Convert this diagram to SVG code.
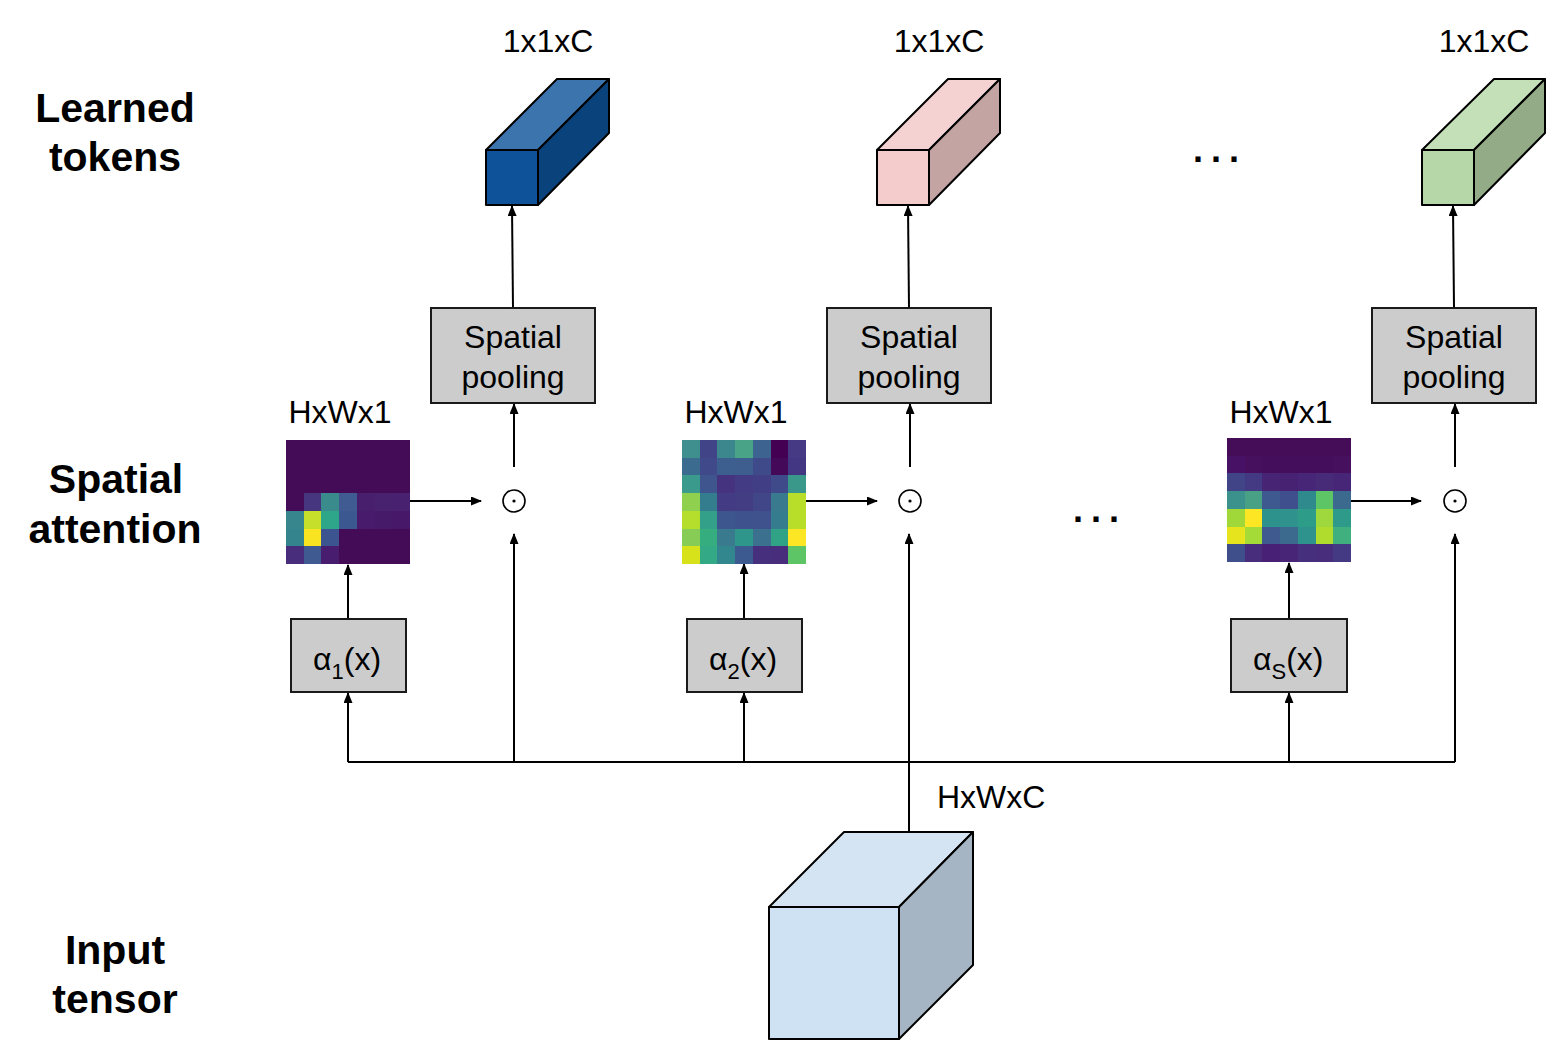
<svg xmlns="http://www.w3.org/2000/svg" width="1562" height="1062" viewBox="0 0 1562 1062">
<defs>
<marker id="arr" markerUnits="userSpaceOnUse" markerWidth="11" markerHeight="9" refX="10" refY="4.5" orient="auto">
<path d="M0,0 L11,4.5 L0,9 z" fill="#000"/>
</marker>
</defs>
<style>
.lbl{font-family:"Liberation Sans",Arial,sans-serif;font-weight:bold;font-size:41px;fill:#000;text-anchor:middle}
.t{font-family:"Liberation Sans",Arial,sans-serif;font-size:32px;fill:#000}
.c{text-anchor:middle}
.box{fill:#cccccc;stroke:#1a1a1a;stroke-width:2}
.cube{stroke:#000;stroke-width:2;stroke-linejoin:round}
.ln{fill:none;stroke:#000;stroke-width:2}
.ar{fill:none;stroke:#000;stroke-width:2;marker-end:url(#arr)}
.od{fill:none;stroke:#000;stroke-width:1.6}
.hm rect{width:17.9px;height:17.9px;shape-rendering:crispEdges}
.dots{font-family:"Liberation Sans",Arial,sans-serif;font-weight:bold;font-size:36px;letter-spacing:8px;fill:#000}
</style>
<rect width="1562" height="1062" fill="#fff"/>

<g id="labels">
<text class="lbl" x="115" y="122">Learned</text>
<text class="lbl" x="115" y="171">tokens</text>
<text class="lbl" x="116" y="493">Spatial</text>
<text class="lbl" x="115" y="543">attention</text>
<text class="lbl" x="115" y="964">Input</text>
<text class="lbl" x="115" y="1013">tensor</text>
</g>

<g id="connectors">
<polyline class="ln" points="348,762 1455,762"/>
<line class="ar" x1="348" y1="762" x2="348" y2="693"/>
<line class="ar" x1="744" y1="762" x2="744" y2="693"/>
<line class="ar" x1="1289" y1="762" x2="1289" y2="693"/>
<line class="ar" x1="514" y1="762" x2="514" y2="534"/>
<line class="ar" x1="909" y1="832" x2="909" y2="534"/>
<line class="ar" x1="1455" y1="762" x2="1455" y2="534"/>
<line class="ar" x1="348" y1="619" x2="348" y2="565"/>
<line class="ar" x1="744" y1="619" x2="744" y2="564"/>
<line class="ar" x1="1289" y1="619" x2="1289" y2="563"/>
<line class="ar" x1="410" y1="501" x2="481" y2="501"/>
<line class="ar" x1="806" y1="501" x2="877" y2="501"/>
<line class="ar" x1="1350" y1="501" x2="1421" y2="501"/>
<line class="ar" x1="514" y1="467" x2="514" y2="404"/>
<line class="ar" x1="910" y1="467" x2="910" y2="404"/>
<line class="ar" x1="1455" y1="467" x2="1455" y2="404"/>
<line class="ar" x1="513" y1="308" x2="512" y2="206"/>
<line class="ar" x1="909" y1="308" x2="908" y2="206"/>
<line class="ar" x1="1454" y1="308" x2="1453" y2="206"/>
</g>

<g id="input-tensor">
<polygon class="cube" fill="#d5e4f2" points="769,907 844,832 973,832 899,907"/>
<polygon class="cube" fill="#a5b5c3" points="899,907 973,832 973,965 899,1039"/>
<rect class="cube" fill="#cfe2f3" x="769" y="907" width="130" height="132"/>
<text class="t" x="937" y="808">HxWxC</text>
</g>

<g id="token-1">
<polygon class="cube" fill="#3c74ae" points="486,150 557,79 609,79 538,150"/>
<polygon class="cube" fill="#0a427c" points="538,150 609,79 609,133 538,205"/>
<rect class="cube" fill="#0e5299" x="486" y="150" width="52" height="55"/>
<text class="t c" x="548" y="52">1x1xC</text>
</g>
<g id="token-2">
<polygon class="cube" fill="#f5d2d2" points="877,150 948,79 1000,79 929,150"/>
<polygon class="cube" fill="#c4a3a3" points="929,150 1000,79 1000,133 929,205"/>
<rect class="cube" fill="#f4cccc" x="877" y="150" width="52" height="55"/>
<text class="t c" x="939" y="52">1x1xC</text>
</g>
<g id="token-s">
<polygon class="cube" fill="#c4e0b8" points="1422,150 1494,79 1545,79 1474,150"/>
<polygon class="cube" fill="#93ac87" points="1474,150 1545,79 1545,133 1474,205"/>
<rect class="cube" fill="#b6d7a8" x="1422" y="150" width="52" height="55"/>
<text class="t c" x="1484" y="52">1x1xC</text>
</g>

<text id="dots-top" class="dots" x="1193" y="162">...</text>
<text id="dots-mid" class="dots" x="1073" y="522">...</text>

<g id="pool-1">
<rect class="box" x="431" y="308" width="164" height="95"/>
<text class="t c" x="513" y="348">Spatial</text>
<text class="t c" x="513" y="388">pooling</text>
</g>
<g id="pool-2">
<rect class="box" x="827" y="308" width="164" height="95"/>
<text class="t c" x="909" y="348">Spatial</text>
<text class="t c" x="909" y="388">pooling</text>
</g>
<g id="pool-s">
<rect class="box" x="1372" y="308" width="164" height="95"/>
<text class="t c" x="1454" y="348">Spatial</text>
<text class="t c" x="1454" y="388">pooling</text>
</g>

<g id="odot-1"><circle class="od" cx="514" cy="501" r="11"/><circle cx="514" cy="501" r="1.6"/></g>
<g id="odot-2"><circle class="od" cx="910" cy="501" r="11"/><circle cx="910" cy="501" r="1.6"/></g>
<g id="odot-s"><circle class="od" cx="1455" cy="501" r="11"/><circle cx="1455" cy="501" r="1.6"/></g>

<g id="alpha-1">
<rect class="box" x="291" y="619" width="115" height="73"/>
<text class="t" x="313" y="670">α<tspan font-size="22" dy="9">1</tspan><tspan dy="-9">(x)</tspan></text>
</g>
<g id="alpha-2">
<rect class="box" x="687" y="619" width="115" height="73"/>
<text class="t" x="709" y="670">α<tspan font-size="22" dy="9">2</tspan><tspan dy="-9">(x)</tspan></text>
</g>
<g id="alpha-s">
<rect class="box" x="1231" y="619" width="116" height="73"/>
<text class="t" x="1253" y="670">α<tspan font-size="22" dy="9">S</tspan><tspan dy="-9">(x)</tspan></text>
</g>

<g id="heatmap-1" class="hm">
<text class="t c" x="340" y="423">HxWx1</text>
<rect x="286" y="440" width="124" height="124" fill="#440c56" style="width:124px;height:124px"/>
<g transform="translate(286,440)">
<rect x="17.7" y="53.1" fill="#46367f"/><rect x="35.4" y="53.1" fill="#3a8c8c"/><rect x="53.1" y="53.1" fill="#3f5b92"/><rect x="70.8" y="53.1" fill="#481f6c"/><rect x="88.5" y="53.1" fill="#48226e"/><rect x="106.2" y="53.1" width="17.8" fill="#482171"/>
<rect x="0" y="70.8" fill="#37868e"/><rect x="17.7" y="70.8" fill="#c5df2a"/><rect x="35.4" y="70.8" fill="#2ea68a"/><rect x="53.1" y="70.8" fill="#3c5890"/><rect x="70.8" y="70.8" fill="#481b6c"/><rect x="88.5" y="70.8" fill="#461a68"/><rect x="106.2" y="70.8" fill="#47186a"/>
<rect x="0" y="88.5" fill="#33848d"/><rect x="17.7" y="88.5" fill="#f8e421"/><rect x="35.4" y="88.5" fill="#3c548f"/>
<rect x="0" y="106.2" fill="#472d7b"/><rect x="17.7" y="106.2" fill="#3e5a90"/><rect x="35.4" y="106.2" fill="#481c6e"/>
</g>
</g>

<g id="heatmap-2" class="hm">
<text class="t c" x="736" y="423">HxWx1</text>
<g transform="translate(682,440)">
<rect x="0" y="0" fill="#3f8f8f"/><rect x="17.7" y="0" fill="#414487"/><rect x="35.4" y="0" fill="#3c878e"/><rect x="53.1" y="0" fill="#48a387"/><rect x="70.8" y="0" fill="#3d6390"/><rect x="88.5" y="0" fill="#440154"/><rect x="106.2" y="0" fill="#453a83"/>
<rect x="0" y="17.7" fill="#3b6b8f"/><rect x="17.7" y="17.7" fill="#404a8a"/><rect x="35.4" y="17.7" fill="#3c5f90"/><rect x="53.1" y="17.7" fill="#3d5e8f"/><rect x="70.8" y="17.7" fill="#3f4a8a"/><rect x="88.5" y="17.7" fill="#45095a"/><rect x="106.2" y="17.7" fill="#433683"/>
<rect x="0" y="35.4" fill="#3a9a8b"/><rect x="17.7" y="35.4" fill="#3f558d"/><rect x="35.4" y="35.4" fill="#46337f"/><rect x="53.1" y="35.4" fill="#433c84"/><rect x="70.8" y="35.4" fill="#423e85"/><rect x="88.5" y="35.4" fill="#3e4a89"/><rect x="106.2" y="35.4" fill="#3a988b"/>
<rect x="0" y="53.1" fill="#8fd04f"/><rect x="17.7" y="53.1" fill="#337d8e"/><rect x="35.4" y="53.1" fill="#433c84"/><rect x="53.1" y="53.1" fill="#433d84"/><rect x="70.8" y="53.1" fill="#404688"/><rect x="88.5" y="53.1" fill="#3a7a8e"/><rect x="106.2" y="53.1" fill="#b8de29"/>
<rect x="0" y="70.8" fill="#b5dd2b"/><rect x="17.7" y="70.8" fill="#33a089"/><rect x="35.4" y="70.8" fill="#3d568e"/><rect x="53.1" y="70.8" fill="#3e538d"/><rect x="70.8" y="70.8" fill="#3f528d"/><rect x="88.5" y="70.8" fill="#357c8e"/><rect x="106.2" y="70.8" fill="#b8de29"/>
<rect x="0" y="88.5" fill="#86cc55"/><rect x="17.7" y="88.5" fill="#35ad7f"/><rect x="35.4" y="88.5" fill="#3a7a8e"/><rect x="53.1" y="88.5" fill="#2e968b"/><rect x="70.8" y="88.5" fill="#3b708e"/><rect x="88.5" y="88.5" fill="#30a386"/><rect x="106.2" y="88.5" fill="#fde725"/>
<rect x="0" y="106.2" fill="#d8e21b"/><rect x="17.7" y="106.2" fill="#33a985"/><rect x="35.4" y="106.2" fill="#32868e"/><rect x="53.1" y="106.2" fill="#3c5a8f"/><rect x="70.8" y="106.2" fill="#46307e"/><rect x="88.5" y="106.2" fill="#472d7b"/><rect x="106.2" y="106.2" fill="#5ec566"/>
</g>
</g>

<g id="heatmap-s" class="hm">
<text class="t c" x="1281" y="423">HxWx1</text>
<g transform="translate(1227,438)">
<rect x="0" y="0" fill="#450c58"/><rect x="17.7" y="0" fill="#450c58"/><rect x="35.4" y="0" fill="#450c58"/><rect x="53.1" y="0" fill="#450c58"/><rect x="70.8" y="0" fill="#450c58"/><rect x="88.5" y="0" fill="#450c58"/><rect x="106.2" y="0" fill="#450c58"/>
<rect x="0" y="17.7" fill="#471265"/><rect x="17.7" y="17.7" fill="#46105f"/><rect x="35.4" y="17.7" fill="#450e5c"/><rect x="53.1" y="17.7" fill="#450e5c"/><rect x="70.8" y="17.7" fill="#450e5c"/><rect x="88.5" y="17.7" fill="#450e5c"/><rect x="106.2" y="17.7" fill="#46105f"/>
<rect x="0" y="35.4" fill="#414487"/><rect x="17.7" y="35.4" fill="#443983"/><rect x="35.4" y="35.4" fill="#482475"/><rect x="53.1" y="35.4" fill="#482272"/><rect x="70.8" y="35.4" fill="#472677"/><rect x="88.5" y="35.4" fill="#472a78"/><rect x="106.2" y="35.4" fill="#472577"/>
<rect x="0" y="53.1" fill="#3b918c"/><rect x="17.7" y="53.1" fill="#48a184"/><rect x="35.4" y="53.1" fill="#3e5990"/><rect x="53.1" y="53.1" fill="#3f4e8c"/><rect x="70.8" y="53.1" fill="#2f8a8d"/><rect x="88.5" y="53.1" fill="#5ec566"/><rect x="106.2" y="53.1" fill="#3c6a8e"/>
<rect x="0" y="70.8" fill="#a0d83a"/><rect x="17.7" y="70.8" fill="#fde725"/><rect x="35.4" y="70.8" fill="#2e928c"/><rect x="53.1" y="70.8" fill="#30928c"/><rect x="70.8" y="70.8" fill="#2d9c89"/><rect x="88.5" y="70.8" fill="#9fd83c"/><rect x="106.2" y="70.8" fill="#2d9a8a"/>
<rect x="0" y="88.5" fill="#e6e41c"/><rect x="17.7" y="88.5" fill="#a5db36"/><rect x="35.4" y="88.5" fill="#3e5a8f"/><rect x="53.1" y="88.5" fill="#3b6a8e"/><rect x="70.8" y="88.5" fill="#2e938c"/><rect x="88.5" y="88.5" fill="#b0dc2e"/><rect x="106.2" y="88.5" fill="#40b07e"/>
<rect x="0" y="106.2" fill="#3f4f8b"/><rect x="17.7" y="106.2" fill="#472d7b"/><rect x="35.4" y="106.2" fill="#482076"/><rect x="53.1" y="106.2" fill="#482576"/><rect x="70.8" y="106.2" fill="#46307e"/><rect x="88.5" y="106.2" fill="#472d7b"/><rect x="106.2" y="106.2" fill="#443a83"/>
</g>
</g>
</svg>
